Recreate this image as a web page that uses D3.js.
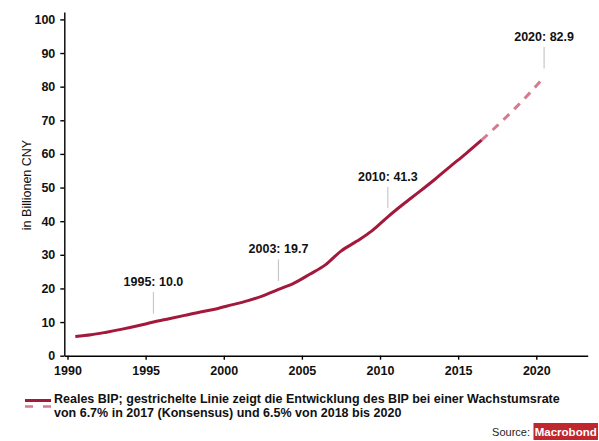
<!DOCTYPE html>
<html>
<head>
<meta charset="utf-8">
<script src="https://cdn.jsdelivr.net/npm/d3@7"></script>
<style>
body{margin:0;background:#fff;}
svg{display:block;font-family:"Liberation Sans",Arial,sans-serif;}
</style>
</head>
<body>
<svg width="599" height="441"></svg>
<script>
// real GDP, annual, plotted at mid-year
var years = [1990,1991,1992,1993,1994,1995,1996,1997,1998,1999,2000,2001,2002,2003,2004,2005,2006,2007,2008,2009,2010,2011,2012,2013,2014,2015,2016];
var gdp = [5.7,6.2,7.0,7.9,8.9,10.0,11.0,12.0,13.0,13.9,15.1,16.3,17.8,19.7,21.6,24.2,27.0,31.1,34.0,37.2,41.3,45.1,48.7,52.4,56.3,60.1,64.1];
// forecast: 6.7% in 2017, 6.5% 2018-2020
var fcYears = [2016,2017,2018,2019,2020];
var fcGdp = [64.1,68.4,72.9,77.7,82.9];
// annotated points
var noteYears = [1995,2003,2010,2020];
var noteVals = [10.0,19.7,41.3,82.9];
var xTicks = [1990,1995,2000,2005,2010,2015,2020];
var yTicks = [0,10,20,30,40,50,60,70,80,90,100];

var svg = d3.select('svg');
var x = d3.scaleLinear().domain([1989.795, 2023.29]).range([64.3, 587.7]);
var y = d3.scaleLinear().domain([0, 102.2]).range([355.7, 12]);

var red = '#a3193b', pink = '#d47b8c';

// axes
var xa = svg.append('g').attr('transform','translate(0,355.7)')
  .call(d3.axisBottom(x).tickValues(xTicks).tickFormat(d3.format('d')).tickSize(4).tickPadding(6).tickSizeOuter(0));
var ya = svg.append('g').attr('transform','translate(64.3,0)')
  .call(d3.axisLeft(y).tickValues(yTicks).tickSize(4).tickPadding(5).tickSizeOuter(0));
[xa, ya].forEach(function(a){
  a.selectAll('path,line').attr('stroke','#000').attr('stroke-width',1.4);
  a.selectAll('text').attr('font-family','"Liberation Sans",Arial,sans-serif').attr('font-size',12.5).attr('font-weight','bold').attr('fill','#111');
});

svg.append('text').attr('transform','translate(31,185) rotate(-90)').attr('text-anchor','middle')
  .attr('font-size',12.5).attr('fill','#111').text('in Billionen CNY');

// lines
var line = d3.line().x(function(d){return x(d[0]+0.5);}).y(function(d){return y(d[1]);}).curve(d3.curveMonotoneX);
svg.append('path').datum(fcYears.map(function(v,i){return [v,fcGdp[i]];}))
  .attr('d',line).attr('fill','none').attr('stroke',pink).attr('stroke-width',3).attr('stroke-dasharray','8,7');
svg.append('path').datum(years.map(function(v,i){return [v,gdp[i]];}))
  .attr('d',line).attr('fill','none').attr('stroke',red).attr('stroke-width',3);

// annotations
noteYears.forEach(function(yr,i){
  var cx = x(yr+0.5), cy = y(noteVals[i]);
  svg.append('line').attr('x1',cx).attr('x2',cx).attr('y1',cy-30).attr('y2',cy-8.5)
    .attr('stroke','#c8c8c8').attr('stroke-width',1.2);
  svg.append('text').attr('x',cx).attr('y',cy-36).attr('text-anchor','middle')
    .attr('font-size',12.5).attr('font-weight','bold').attr('fill','#111')
    .text(yr + ': ' + noteVals[i].toFixed(1));
});

// legend
svg.append('line').attr('x1',25).attr('x2',51).attr('y1',400.5).attr('y2',400.5).attr('stroke',red).attr('stroke-width',3);
svg.append('line').attr('x1',25).attr('x2',51).attr('y1',406.5).attr('y2',406.5).attr('stroke',pink).attr('stroke-width',2.5).attr('stroke-dasharray','8,10');
var leg = svg.append('text').attr('font-size',12.5).attr('font-weight','bold').attr('fill','#111');
leg.append('tspan').attr('x',54).attr('y',403).text('Reales BIP; gestrichelte Linie zeigt die Entwicklung des BIP bei einer Wachstumsrate');
leg.append('tspan').attr('x',54).attr('y',417).text('von 6.7% in 2017 (Konsensus) und 6.5% von 2018 bis 2020');

// source
svg.append('text').attr('x',530).attr('y',436).attr('text-anchor','end').attr('font-size',11).attr('fill','#222').text('Source:');
svg.append('rect').attr('x',533.5).attr('y',423).attr('width',64.5).attr('height',17).attr('fill','#c0262d');
svg.append('text').attr('x',565.75).attr('y',436).attr('text-anchor','middle')
  .attr('font-size',11.5).attr('font-weight','bold').attr('fill','#fff').text('Macrobond');
</script>
</body>
</html>
